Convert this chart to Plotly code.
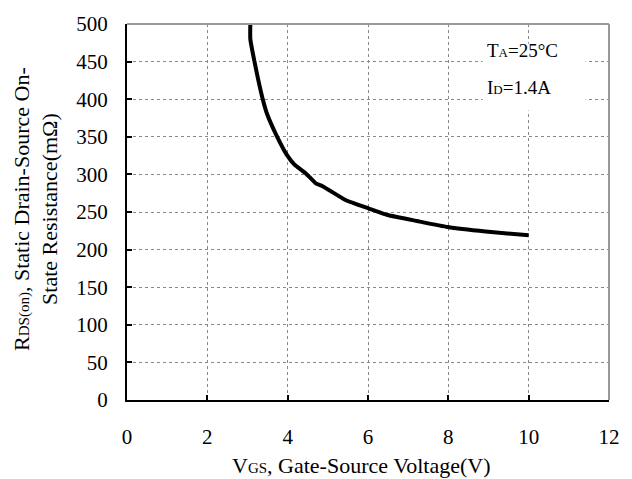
import plotly.graph_objects as go

vgs = [3.07, 3.07, 3.17, 3.37, 3.49, 3.73, 3.98, 4.17, 4.46, 4.70, 4.88, 5.44, 6.00, 6.49, 7.22, 7.98, 8.93, 10.0]
rds = [500, 480, 451, 402, 380, 351, 326, 313, 301, 288, 284, 266, 255, 246, 238, 230, 224, 219]

x_ticks = [0, 2, 4, 6, 8, 10, 12]
y_ticks = [0, 50, 100, 150, 200, 250, 300, 350, 400, 450, 500]

FONT = "Liberation Serif, Times New Roman, serif"
W, H = 632, 479
L, R, T, B = 127, 13, 18, 79
pw, ph = W - L - R, H - T - B

def px(xp):
    return (xp - L) / pw

def py(yp):
    return (H - B - yp) / ph

fig = go.Figure()
fig.add_trace(go.Scatter(x=vgs, y=rds, mode="lines",
                         line=dict(color="black", width=4, shape="spline", smoothing=0.4),
                         showlegend=False, hoverinfo="skip"))

axis_common = dict(
    showgrid=True, gridcolor="#888888", gridwidth=1, griddash="dot",
    showline=True, linecolor="black", linewidth=2,
    ticks="inside", ticklen=5, tickwidth=2, tickcolor="black",
    tickfont=dict(family=FONT, size=21, color="black"),
    zeroline=False, mirror=False,
)

fig.update_xaxes(range=[0, 12], tickvals=x_ticks, ticktext=[str(v) for v in x_ticks],
                 ticklabelstandoff=17, **axis_common)
fig.update_yaxes(range=[0, 500], tickvals=y_ticks, ticktext=[str(v) for v in y_ticks],
                 ticklabelstandoff=13, **axis_common)

shapes = [
    dict(type="line", xref="paper", yref="paper", x0=0, x1=1, y0=1, y1=1,
         line=dict(color="#999999", width=2)),
    dict(type="line", xref="paper", yref="paper", x0=1, x1=1, y0=0, y1=1,
         line=dict(color="#999999", width=2)),
    dict(type="rect", xref="paper", yref="paper", x0=px(490), x1=px(595),
         y0=py(106), y1=py(38), fillcolor="white", line=dict(width=0),
         layer="above"),
]

sub = "<span style='font-size:13px'>%s</span>"
annotations = [
    dict(text="T" + sub % "A" + "=25°C", xref="paper", yref="paper",
         x=px(492), y=py(45), xanchor="left", yanchor="middle", showarrow=False,
         font=dict(family=FONT, size=19, color="black")),
    dict(text="I" + sub % "D" + "=1.4A", xref="paper", yref="paper",
         x=px(492), y=py(83), xanchor="left", yanchor="middle", showarrow=False,
         font=dict(family=FONT, size=19, color="black")),
    dict(text="R" + "<span style='font-size:15px'>DS(on)</span>" +
              ", Static Drain-Source On-<br>State Resistance(mΩ)",
         xref="paper", yref="paper", x=px(34), y=py(206), textangle=-90,
         xanchor="center", yanchor="middle", showarrow=False,
         font=dict(family=FONT, size=22, color="black")),
    dict(text="V" + "<span style='font-size:15px'>GS</span>" + ", Gate-Source Voltage(V)",
         xref="paper", yref="paper", x=px(366), y=py(467),
         xanchor="center", yanchor="middle", showarrow=False,
         font=dict(family=FONT, size=22, color="black")),
]

fig.update_layout(
    width=W, height=H,
    margin=dict(l=L, r=R, t=T, b=B),
    paper_bgcolor="white", plot_bgcolor="white",
    shapes=shapes, annotations=annotations,
    font=dict(family=FONT, color="black"),
)

fig.write_html("out.html")
